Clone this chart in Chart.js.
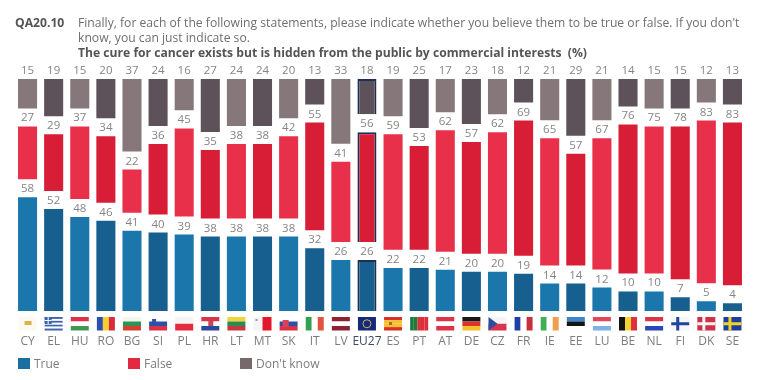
<!DOCTYPE html>
<html>
<head>
<meta charset="utf-8">
<script src="https://cdn.jsdelivr.net/npm/chart.js@4"></script>
<style>
  html, body { margin: 0; padding: 0; background: #fff; }
  #wrap { position: relative; width: 768px; height: 380px; overflow: hidden; font-family: "Open Sans", sans-serif; color: #6f6f6f; filter: blur(0.45px); }
  #chart { position: absolute; left: 0; top: 0; }
  .head { position: absolute; font-size: 12.15px; line-height: 15px; white-space: nowrap; }
  .key { position: absolute; top: 356px; font-size: 12px; line-height: 15px; color: #7d7d7d; }
  .key i { position: absolute; left: 0; top: 2px; width: 12px; height: 11px; }
  .key span { position: absolute; left: 16px; white-space: nowrap; }
</style>
</head>
<body>
<div id="wrap">
  <div class="head" style="left:15px;top:15px;font-weight:700;color:#555">QA20.10</div>
  <div class="head" style="left:78px;top:15px">Finally, for each of the following statements, please indicate whether you believe them to be true or false. If you don't</div>
  <div class="head" style="left:78px;top:30px">know, you can just indicate so.</div>
  <div class="head" style="left:78px;top:45px;font-weight:700;color:#555">The cure for cancer exists but is hidden from the public by commercial interests&nbsp; (%)</div>
  <canvas id="chart" width="768" height="380"></canvas>
  <div id="legend"></div>
</div>
<script>
// Data
const categories = ['CY','EL','HU','RO','BG','SI','PL','HR','LT','MT','SK','IT','LV','EU27','ES','PT','AT','DE','CZ','FR','IE','EE','LU','BE','NL','FI','DK','SE'];
const trueValues = [58,52,48,46,41,40,39,38,38,38,38,32,26,26,22,22,21,20,20,19,14,14,12,10,10,7,5,4];
const falseValues = [27,29,37,34,22,36,45,35,38,38,42,55,41,56,59,53,62,57,62,69,65,57,67,76,75,78,83,83];
const dontKnowValues = [15,19,15,20,37,24,16,27,24,24,20,13,33,18,19,25,17,23,18,12,21,29,21,14,15,15,12,13];

const EU_INDEX = categories.indexOf('EU27');
const GAP = 9.2; // room for the value labels between the segments
const spacer = categories.map(() => GAP);

// every other bar is a shade darker
function shade(light, dark) {
  return ctx => (ctx.dataIndex % 2 === 0 ? light : dark);
}

function segment(label, data, light, dark) {
  return {
    label,
    data,
    backgroundColor: shade(light, dark),
    borderColor: ctx => (ctx.dataIndex === EU_INDEX ? '#1d2f52' : 'transparent'),
    borderWidth: ctx => (ctx.dataIndex === EU_INDEX ? 2 : 0),
    stack: 's'
  };
}

function gapSet() {
  return { label: '', data: spacer, backgroundColor: 'transparent', stack: 's', isGap: true };
}

// Little flags under the axis, drawn in a 19x13 box
function bars(c, x, y, w, h, cols, vertical) {
  cols.forEach((col, i) => {
    c.fillStyle = col;
    if (vertical) c.fillRect(x + i * w / cols.length, y, w / cols.length, h);
    else c.fillRect(x, y + i * h / cols.length, w, h / cols.length);
  });
}

function cross(c, x, y, w, h, bg, fg) {
  c.fillStyle = bg;
  c.fillRect(x, y, w, h);
  c.fillStyle = fg;
  c.fillRect(x, y + h / 2 - 1.5, w, 3);
  c.fillRect(x + 5, y, 3, h);
}

const flags = {
  CY: (c, x, y, w, h) => { bars(c, x, y, w, h, ['#fbf9f0']); c.fillStyle = '#e0b04a'; c.fillRect(x + 6, y + 4, 7, 4); },
  EL: (c, x, y, w, h) => { bars(c, x, y, w, h, ['#3d63ad','#fff','#3d63ad','#fff','#3d63ad','#fff','#3d63ad']); c.fillStyle = '#3d63ad'; c.fillRect(x, y, 7, 7); c.fillStyle = '#fff'; c.fillRect(x, y + 3, 7, 1); c.fillRect(x + 3, y, 1, 7); },
  HU: (c, x, y, w, h) => bars(c, x, y, w, h, ['#d9344a','#fff','#3f9a4f']),
  RO: (c, x, y, w, h) => bars(c, x, y, w, h, ['#2a4fb0','#f6cf2a','#d92b3a'], true),
  BG: (c, x, y, w, h) => bars(c, x, y, w, h, ['#f5f5f0','#2f9353','#d6402f']),
  SI: (c, x, y, w, h) => { bars(c, x, y, w, h, ['#fff','#2c50a5','#dc3245']); c.fillStyle = '#2c50a5'; c.fillRect(x + 3, y + 2, 4, 4); },
  PL: (c, x, y, w, h) => bars(c, x, y, w, h, ['#f4f4f4','#e32b40']),
  HR: (c, x, y, w, h) => { bars(c, x, y, w, h, ['#d8344a','#fff','#2a4a9f']); c.fillStyle = '#c9465a'; c.fillRect(x + 7, y + 4, 5, 5); },
  LT: (c, x, y, w, h) => bars(c, x, y, w, h, ['#efd43a','#2f8a4f','#c4393f']),
  MT: (c, x, y, w, h) => { bars(c, x, y, w, h, ['#f6f4f4','#e2192e'], true); c.fillStyle = '#999'; c.fillRect(x + 2, y + 2, 2, 2); },
  SK: (c, x, y, w, h) => { bars(c, x, y, w, h, ['#fff','#2c50a5','#dc3245']); c.fillStyle = '#d9405a'; c.fillRect(x + 3, y + 3, 6, 7); },
  IT: (c, x, y, w, h) => bars(c, x, y, w, h, ['#2fa150','#fff','#e0533c'], true),
  LV: (c, x, y, w, h) => bars(c, x, y, w, h, ['#8e2233','#fff','#8e2233']),
  EU27: (c, x, y, w, h) => { bars(c, x, y, w, h, ['#152a7c']); c.strokeStyle = '#c8b84a'; c.lineWidth = 1; c.beginPath(); c.arc(x + w / 2, y + h / 2, 4, 0, Math.PI * 2); c.stroke(); },
  ES: (c, x, y, w, h) => { bars(c, x, y, w, h, ['#d9302c','#f5c22c','#f5c22c','#d9302c']); c.fillStyle = '#b5652a'; c.fillRect(x + 5, y + 5, 3, 3); },
  PT: (c, x, y, w, h) => bars(c, x, y, w, h, ['#1f7a3c','#1f7a3c','#dd2e3c','#dd2e3c','#dd2e3c'], true),
  AT: (c, x, y, w, h) => bars(c, x, y, w, h, ['#dc3348','#fff','#dc3348']),
  DE: (c, x, y, w, h) => bars(c, x, y, w, h, ['#181818','#d9342c','#f4c22f']),
  CZ: (c, x, y, w, h) => { bars(c, x, y, w, h, ['#f5f5f5','#d9344e']); c.fillStyle = '#2c4ea0'; c.beginPath(); c.moveTo(x, y); c.lineTo(x + 9, y + h / 2); c.lineTo(x, y + h); c.fill(); },
  FR: (c, x, y, w, h) => bars(c, x, y, w, h, ['#1f3fa5','#fff','#c7313f'], true),
  IE: (c, x, y, w, h) => bars(c, x, y, w, h, ['#3fae55','#fff','#ef9f50'], true),
  EE: (c, x, y, w, h) => bars(c, x, y, w, h, ['#3a86cf','#141414','#fff']),
  LU: (c, x, y, w, h) => bars(c, x, y, w, h, ['#e0475a','#fff','#7fb0e6']),
  BE: (c, x, y, w, h) => bars(c, x, y, w, h, ['#141414','#f5d32f','#e03040'], true),
  NL: (c, x, y, w, h) => bars(c, x, y, w, h, ['#d8344a','#fff','#2a46b8']),
  FI: (c, x, y, w, h) => cross(c, x, y, w, h, '#f6f6f6', '#1f459c'),
  DK: (c, x, y, w, h) => cross(c, x, y, w, h, '#d12f47', '#f6f6f6'),
  SE: (c, x, y, w, h) => cross(c, x, y, w, h, '#1c3f9c', '#f2d22c')
};

const valueLabels = {
  id: 'valueLabels',
  afterDatasetsDraw(chart) {
    const c = chart.ctx;
    c.save();
    c.font = '11.5px "Open Sans", sans-serif';
    c.fillStyle = '#858585';
    c.textAlign = 'center';
    c.textBaseline = 'bottom';
    chart.data.datasets.forEach((ds, i) => {
      if (ds.isGap) return;
      chart.getDatasetMeta(i).data.forEach((bar, j) => {
        c.fillText(ds.data[j], bar.x, bar.y - 2.5);
      });
    });
    c.restore();
  }
};

const flagRow = {
  id: 'flagRow',
  afterDraw(chart) {
    const c = chart.ctx;
    const x = chart.scales.x;
    const top = chart.chartArea.bottom + 6;
    categories.forEach((name, i) => {
      c.save();
      flags[name](c, x.getPixelForValue(i) - 9, top, 18, 13.5);
      c.restore();
    });
  }
};

new Chart(document.getElementById('chart').getContext('2d'), {
  type: 'bar',
  data: {
    labels: categories,
    datasets: [
      segment('True', trueValues, '#1b77ab', '#175f8e'),
      gapSet(),
      segment('False', falseValues, '#e9304a', '#d81e36'),
      gapSet(),
      segment("Don't know", dontKnowValues, '#85777a', '#5d5259')
    ]
  },
  options: {
    responsive: false,
    animation: false,
    layout: { padding: { left: 14.5, right: 22.5, top: 79, bottom: 0 } },
    datasets: { bar: { barPercentage: 0.73, categoryPercentage: 1 } },
    plugins: { legend: { display: false }, tooltip: { enabled: false } },
    scales: {
      x: {
        stacked: true,
        grid: { display: false },
        border: { display: false },
        afterFit(scale) { scale.height = 69; },
        ticks: {
          autoSkip: false,
          maxRotation: 0,
          padding: 15,
          color: ctx => (ctx.index === EU_INDEX ? '#3f4a63' : '#7d7d7d'),
          font: { family: '"Open Sans", sans-serif', size: 12 }
        }
      },
      y: { stacked: true, display: false, min: 0, max: 100 + GAP * 2 }
    }
  },
  plugins: [valueLabels, flagRow]
});

// Legend
const legendItems = [['True', '#1b6f9f', 18], ['False', '#e2293f', 128], ["Don't know", '#75696c', 240]];
document.getElementById('legend').innerHTML = legendItems.map(([text, col, x]) =>
  `<div class="key" style="left:${x}px"><i style="background:${col}"></i><span>${text}</span></div>`).join('');
</script>
</body>
</html>
